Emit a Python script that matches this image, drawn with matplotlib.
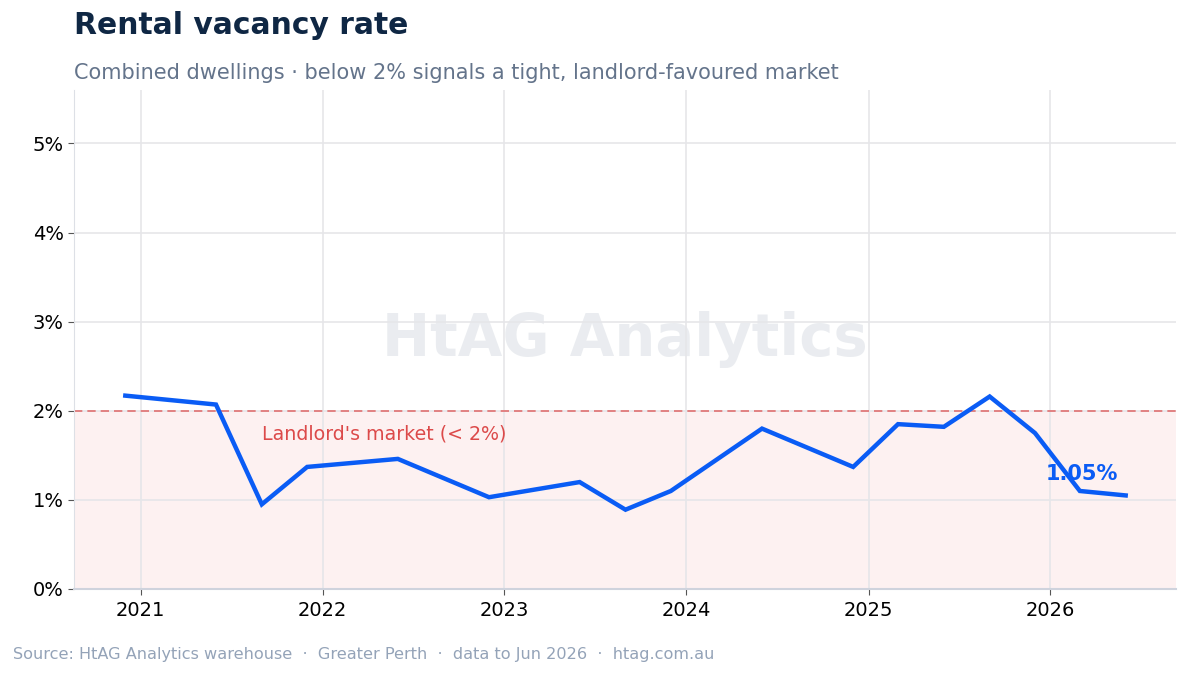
import matplotlib
matplotlib.use("Agg")
import matplotlib.pyplot as plt
import matplotlib.dates as mdates
import numpy as np
from datetime import datetime

# data
dates = ["2020-12", "2021-06", "2021-09", "2021-12", "2022-06", "2022-12",
         "2023-06", "2023-09", "2023-12", "2024-06", "2024-12", "2025-03",
         "2025-06", "2025-09", "2025-12", "2026-03", "2026-06"]
vacancy = [2.17, 2.07, 0.95, 1.37, 1.46, 1.03,
           1.20, 0.89, 1.10, 1.80, 1.37, 1.85,
           1.82, 2.16, 1.75, 1.10, 1.05]
threshold = 2.0
yticks = [0, 1, 2, 3, 4, 5]

x = [datetime.strptime(d, "%Y-%m") for d in dates]

fig = plt.figure(figsize=(11.89, 6.76), dpi=100)
ax = fig.add_axes([74/1189, 1 - 589/676, (1176-74)/1189, (589-90)/676])

ax.set_xlim(datetime(2020, 8, 20), datetime(2026, 9, 10))
ax.set_ylim(0, 5.6)

# landlord's market zone
ax.axhspan(0, threshold, color="#fdeeee", alpha=0.8, zorder=0, lw=0)
ax.axhline(threshold, color="#e07070", ls=(0, (5, 3)), lw=1.2, zorder=1)
ax.text(datetime(2021, 9, 1), 1.74, "Landlord's market (< 2%)", color="#dc4a4a",
        fontsize=13.7, va="center", ha="left", zorder=3)

ax.plot(x, vacancy, color="#0a5cf5", lw=3.2, solid_joinstyle="miter", zorder=4)
ax.annotate("%.2f%%" % vacancy[-1], xy=(x[-1], vacancy[-1]), xytext=(-8, 21),
            textcoords="offset pixels", color="#0a5cf5", fontsize=15,
            fontweight="bold", ha="right", va="center", zorder=5)

# watermark
ax.text(0.5, 0.5, "HtAG Analytics", transform=ax.transAxes, fontsize=41.5,
        fontweight="bold", color="#cbd1da", alpha=0.4, ha="center", va="center", zorder=0.5)

ax.set_yticks(yticks)
ax.set_yticklabels(["%d%%" % v for v in yticks])
ax.xaxis.set_major_locator(mdates.YearLocator())
ax.xaxis.set_major_formatter(mdates.DateFormatter("%Y"))
ax.tick_params(labelsize=14, colors="#555555", labelcolor="black", length=4)
ax.tick_params(axis="x", pad=5)
ax.grid(True, color="#e6e6e9", lw=1.2, zorder=0.6)
ax.set_axisbelow(True)

for s in ["top", "right"]:
    ax.spines[s].set_visible(False)
ax.spines["left"].set_color("#dde0e6")
ax.spines["bottom"].set_color("#cfd3dd")
ax.spines["bottom"].set_linewidth(1.5)

fig.text(74/1189, 1 - 26/676, "Rental vacancy rate", fontsize=21.4, fontweight="bold",
         color="#0f2744", va="center", ha="left")
fig.text(74/1189, 1 - 73/676, "Combined dwellings \u00b7 below 2% signals a tight, landlord-favoured market",
         fontsize=15, color="#64748b", va="center", ha="left")
fig.text(13/1189, 1 - 655/676,
         "Source: HtAG Analytics warehouse  \u00b7  Greater Perth  \u00b7  data to Jun 2026  \u00b7  htag.com.au",
         fontsize=11.6, color="#94a3b8", va="center", ha="left")

fig.savefig("out.png", dpi=100)
